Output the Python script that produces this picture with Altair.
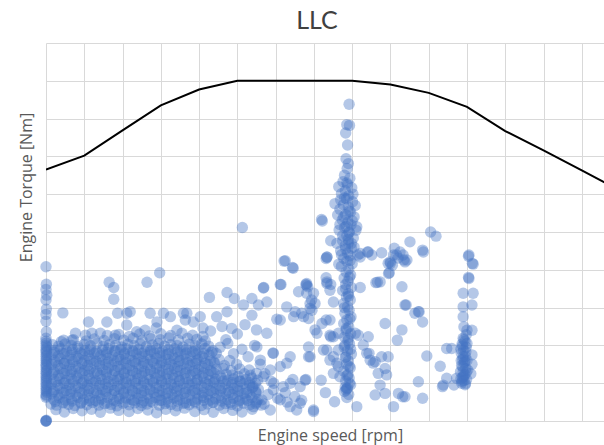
import altair as alt
import pandas as pd

# ---- max torque curve (rpm, Nm) ----
curve_rpm = [600, 700, 800, 900, 1000, 1100, 1200, 1300, 1400, 1500, 1600, 1700, 1800, 1900, 2000, 2100]
curve_nm = [665, 702, 769, 835, 877, 900, 900, 900, 900, 890, 868, 831, 767, 716, 663, 610]

x_ticks = [600, 700, 800, 900, 1000, 1100, 1200, 1300, 1400, 1500, 1600, 1700, 1800, 1900, 2000]
y_ticks = [0, 100, 200, 300, 400, 500, 600, 700, 800, 900, 1000]

# ---- idle column ----
idle = [(600, 0), (600, 0), (600, 0), (601, 2), (600, 408), (601, 362), (600, 348), (602, 333), (600, 320),
        (601, 296), (600, 282), (600, 264), (601, 236), (600, 219),
        (600, 211), (601, 206), (600, 200), (602, 196), (600, 190), (601, 185), (600, 181), (602, 175),
        (600, 171), (601, 165), (600, 160), (602, 156), (600, 150), (601, 146), (600, 141), (602, 135),
        (600, 131), (601, 126), (600, 120), (602, 115), (600, 111), (601, 106), (600, 100), (602, 95),
        (600, 91), (601, 85), (600, 80), (602, 76), (600, 70), (601, 66), (600, 63)]

# ---- dense cloud ----
core = [
    (626, 30), (648, 24), (671, 33), (694, 27), (719, 31), (742, 23), (768, 34), (790, 28), (817, 25), (840, 33),
    (866, 29), (889, 22), (913, 31), (938, 27), (962, 34), (989, 25), (1013, 30), (1037, 23), (1064, 33), (1088, 28),
    (1112, 24), (1139, 31),
    (613, 45), (628, 42), (644, 48), (659, 44), (675, 41), (691, 47), (707, 43), (722, 49), (738, 42), (753, 46),
    (770, 44), (785, 40), (801, 47), (817, 43), (832, 48), (849, 41), (864, 45), (880, 49), (896, 42), (911, 46),
    (927, 44), (943, 40), (959, 47), (974, 43), (990, 48), (1006, 41), (1022, 45), (1037, 49), (1053, 42), (1069, 46),
    (1085, 44), (1100, 40), (1116, 47), (1132, 43), (1148, 46), (1162, 42),
    (620, 57), (635, 61), (651, 55), (666, 59), (683, 62), (698, 56), (714, 60), (730, 54), (745, 58), (761, 62),
    (777, 55), (792, 59), (808, 61), (824, 56), (840, 60), (855, 54), (871, 58), (887, 62), (902, 55), (918, 59),
    (934, 61), (949, 56), (965, 60), (981, 54), (996, 58), (1012, 62), (1028, 55), (1043, 59), (1059, 61), (1075, 56),
    (1090, 60), (1106, 54), (1122, 58), (1138, 62), (1154, 57),
    (615, 72), (631, 68), (647, 74), (662, 70), (678, 67), (694, 73), (709, 69), (725, 75), (741, 68), (756, 72),
    (772, 70), (788, 66), (803, 73), (819, 69), (835, 74), (850, 67), (866, 71), (882, 75), (897, 68), (913, 72),
    (929, 70), (944, 66), (960, 73), (976, 69), (991, 74), (1007, 67), (1023, 71), (1038, 75), (1054, 68), (1070, 72),
    (1086, 70), (1101, 66), (1117, 73), (1133, 69), (1149, 74),
    (622, 83), (637, 87), (653, 81), (668, 85), (684, 88), (700, 82), (715, 86), (731, 80), (747, 84), (762, 88),
    (778, 81), (794, 85), (809, 87), (825, 82), (841, 86), (856, 80), (872, 84), (888, 88), (903, 81), (919, 85),
    (935, 87), (950, 82), (966, 86), (982, 80), (997, 84), (1013, 88), (1029, 81), (1044, 85), (1060, 87), (1076, 82),
    (1091, 86), (1107, 80), (1123, 84), (1139, 88), (1155, 83),
    (614, 98), (630, 94), (646, 100), (661, 96), (677, 93), (693, 99), (708, 95), (724, 101), (740, 94), (755, 98),
    (771, 96), (787, 92), (802, 99), (818, 95), (834, 100), (849, 93), (865, 97), (881, 101), (896, 94), (912, 98),
    (928, 96), (943, 92), (959, 99), (975, 95), (990, 100), (1006, 93), (1022, 97), (1037, 101), (1053, 94), (1069, 98),
    (1085, 96), (1100, 92), (1116, 99), (1132, 95), (1147, 100),
    (621, 109), (636, 113), (652, 107), (667, 111), (683, 114), (699, 108), (714, 112), (730, 106), (746, 110), (761, 114),
    (777, 107), (793, 111), (808, 113), (824, 108), (840, 112), (855, 106), (871, 110), (887, 114), (902, 107), (918, 111),
    (934, 113), (949, 108), (965, 112), (981, 106), (996, 110), (1012, 114), (1028, 107), (1043, 111), (1059, 113), (1075, 108),
    (1090, 112), (1106, 106), (1122, 110), (1138, 114), (1153, 108),
    (616, 124), (632, 120), (648, 126), (663, 122), (679, 119), (695, 125), (710, 121), (726, 127), (742, 120), (757, 124),
    (773, 122), (789, 118), (804, 125), (820, 121), (836, 126), (851, 119), (867, 123), (883, 127), (898, 120), (914, 124),
    (930, 122), (945, 118), (961, 125), (977, 121), (992, 126), (1008, 119), (1024, 123), (1039, 127), (1055, 120), (1071, 124),
    (1087, 122), (1102, 118), (1118, 125), (1134, 121), (1150, 126),
    (623, 135), (638, 139), (654, 133), (669, 137), (685, 140), (701, 134), (716, 138), (732, 132), (748, 136), (763, 140),
    (779, 133), (795, 137), (810, 139), (826, 134), (842, 138), (857, 132), (873, 136), (889, 140), (904, 133), (920, 137),
    (936, 139), (951, 134), (967, 138), (983, 132), (998, 136), (1014, 140), (1030, 133), (1045, 137), (1063, 139), (1084, 134),
    (1106, 138), (1131, 135),
    (615, 150), (631, 146), (647, 152), (662, 148), (678, 145), (694, 151), (709, 147), (725, 153), (741, 146), (756, 150),
    (772, 148), (788, 144), (803, 151), (819, 147), (835, 152), (850, 145), (866, 149), (882, 153), (897, 146), (913, 150),
    (929, 148), (944, 144), (960, 151), (976, 147), (991, 152), (1007, 145), (1023, 149), (1040, 153), (1066, 147), (1098, 150),
    (622, 161), (637, 165), (653, 159), (668, 163), (684, 166), (700, 160), (715, 164), (731, 158), (747, 162), (762, 166),
    (778, 159), (794, 163), (809, 165), (825, 160), (841, 164), (856, 158), (872, 162), (888, 166), (903, 159), (919, 163),
    (935, 165), (950, 160), (966, 164), (982, 158), (997, 162), (1013, 166), (1030, 159), (1052, 163), (1080, 160),
    (616, 176), (632, 172), (648, 178), (663, 174), (679, 171), (695, 177), (710, 173), (726, 179), (742, 172), (757, 176),
    (773, 174), (789, 170), (804, 177), (820, 173), (836, 178), (851, 171), (867, 175), (883, 179), (898, 172), (914, 176),
    (930, 174), (945, 170), (961, 177), (977, 173), (992, 178), (1008, 171), (1026, 175), (1045, 179),
    (623, 187), (638, 191), (654, 185), (669, 189), (685, 192), (701, 186), (716, 190), (732, 184), (748, 188), (763, 192),
    (779, 185), (795, 189), (810, 191), (826, 186), (842, 190), (857, 184), (873, 188), (889, 192), (904, 185), (920, 189),
    (936, 191), (951, 186), (967, 190), (983, 184), (998, 188), (1016, 192), (1036, 186),
    (617, 202), (633, 198), (650, 204), (666, 200), (683, 197), (700, 203), (716, 199), (733, 205), (750, 198), (766, 202),
    (782, 200), (798, 196), (814, 203), (830, 199), (846, 204), (862, 197), (878, 201), (894, 205), (910, 198), (926, 202),
    (942, 200), (958, 196), (974, 203), (990, 199), (1007, 204), (1025, 198),
    (640, 210), (672, 215), (705, 212), (726, 217), (752, 213), (779, 218), (803, 214), (828, 219), (851, 213), (874, 218),
    (899, 215), (921, 220), (946, 214), (970, 219), (994, 216), (1016, 212),
    (760, 226), (790, 229), (818, 224), (845, 230), (870, 225), (900, 231), (926, 226), (955, 232), (983, 227), (1010, 224),
    (1055, 195), (1075, 205), (1090, 178), (1112, 190), (1128, 170), (1145, 200), (1160, 150), (1070, 215),
    (1170, 45), (1180, 70), (1195, 100), (1205, 60), (1225, 75), (1245, 110), (1172, 125), (1188, 105), (1230, 50),
    (1250, 65), (1268, 55),
]

# ---- extra points where the cloud is densest ----
core2 = [
    (624, 52), (647, 50), (668, 53), (692, 49), (714, 54), (737, 51), (759, 48), (783, 53), (806, 50), (829, 54),
    (851, 49), (874, 52), (898, 55), (920, 50), (943, 53), (966, 48), (989, 52), (1012, 55), (1035, 50), (1058, 53),
    (1081, 49), (1104, 52), (1127, 54), (1150, 50),
    (619, 78), (642, 75), (665, 79), (688, 76), (711, 80), (734, 74), (757, 78), (780, 81), (803, 76), (826, 79),
    (849, 75), (872, 80), (895, 77), (918, 74), (941, 79), (964, 76), (987, 81), (1010, 75), (1033, 78), (1056, 80),
    (1079, 76), (1102, 79), (1125, 75), (1148, 78),
    (626, 104), (649, 101), (672, 106), (695, 102), (718, 105), (741, 100), (764, 104), (787, 107), (810, 102), (833, 105),
    (856, 101), (879, 106), (902, 103), (925, 100), (948, 105), (971, 102), (994, 107), (1017, 101), (1040, 104),
    (1063, 106), (1086, 102), (1109, 105), (1132, 101),
    (620, 130), (643, 127), (666, 131), (689, 128), (712, 132), (735, 126), (758, 130), (781, 133), (804, 128), (827, 131),
    (850, 127), (873, 132), (896, 129), (919, 126), (942, 131), (965, 128), (988, 133), (1011, 127), (1034, 130),
    (625, 156), (648, 153), (671, 157), (694, 154), (717, 158), (740, 152), (763, 156), (786, 159), (809, 154), (832, 157),
    (855, 153), (878, 158), (901, 155), (924, 152), (947, 157), (970, 154), (993, 159), (1016, 153), (1039, 156),
    (621, 182), (644, 179), (667, 183), (690, 180), (713, 184), (736, 178), (759, 182), (782, 185), (805, 180), (828, 183),
    (851, 179), (874, 184), (897, 181), (920, 178), (943, 183), (966, 180), (989, 185), (1012, 179), (1033, 182),
]

# ---- fringe and scattered points around the cloud ----
fringe = [
    (644, 286), (711, 262), (759, 262), (787, 285), (811, 285), (811, 254), (820, 289), (872, 285), (890, 262), (907, 285),
    (925, 276), (959, 285), (964, 267), (677, 232), (703, 227), (720, 232), (742, 232), (781, 227), (837, 236), (859, 240),
    (888, 246), (942, 240), (646, 214), (668, 214), (765, 367), (777, 353), (777, 322), (864, 367), (897, 392),
    (985, 262), (1003, 276), (968, 285), (1046, 276), (1073, 289), (1116, 307), (1138, 280), (1155, 307), (1177, 315),
    (1027, 327), (1073, 340), (1092, 324), (1138, 324),
    (1010, 246), (1030, 238), (1060, 250), (1085, 245), (1100, 230), (1120, 255), (1150, 241), (1177, 232), (1151, 196),
    (1193, 180), (1160, 161), (1186, 135), (1212, 144), (1229, 153), (1238, 170), (1168, 117), (1141, 91), (1194, 82),
    (1220, 91), (1238, 100), (1277, 108), (1279, 110), (1264, 91), (1164, 56), (1212, 56), (1238, 38), (1255, 29),
    (1299, 29), (1186, 29), (1142, 38), (1286, 170), (1286, 196), (1308, 232), (1325, 188), (1342, 161), (1351, 223),
    (1321, 258), (1295, 293),
]

diag = [
    (1225, 424), (1246, 404), (1334, 433), (1168, 352), (1212, 361), (1203, 269), (1229, 302), (1281, 359), (1286, 271),
    (1251, 289), (1334, 368), (1351, 315), (1194, 179), (1212, 267), (1247, 276), (1268, 285), (1290, 311), (1299, 338),
    (1260, 342), (1113, 512), (1244, 406), (1222, 423), (1214, 361), (1169, 353), (1279, 361), (1284, 355), (1332, 379),
    (1344, 361), (1320, 533), (1344, 477), (1332, 430), (1355, 575), (1412, 514), (1322, 529),
    (1281, 364), (1281, 338), (1294, 320), (1273, 276), (1290, 298), (1303, 311), (1303, 241), (1334, 364), (1342, 346),
    (1342, 267), (1342, 227), (1364, 232), (1334, 188), (1290, 170), (1351, 170), (1360, 153), (1351, 126), (1368, 117),
    (1386, 86), (1264, 47), (1299, 25), (1412, 38), (1354, 51), (1319, 108), (1330, 75),
]

# ---- vertical spike near 1390 rpm ----
spike = [
    (1392, 838), (1386, 784), (1393, 782), (1383, 762), (1388, 730), (1384, 694), (1390, 681), (1387, 668),
    (1380, 650), (1394, 642), (1376, 633), (1388, 625), (1399, 617), (1382, 609), (1372, 601), (1391, 596), (1385, 588),
    (1401, 580), (1377, 572), (1390, 566), (1368, 560), (1396, 553), (1383, 546), (1405, 540), (1374, 532), (1389, 526),
    (1397, 519), (1380, 512), (1366, 505), (1392, 498), (1386, 491), (1403, 484), (1375, 477), (1390, 471), (1382, 464),
    (1398, 457), (1370, 450), (1388, 444), (1394, 437), (1378, 430), (1386, 423), (1400, 416), (1372, 409), (1391, 402),
    (1384, 394), (1396, 386), (1379, 378), (1389, 370), (1383, 361), (1398, 353), (1375, 345), (1390, 337), (1385, 328),
    (1395, 320), (1378, 311), (1388, 302), (1392, 293), (1381, 285), (1397, 276), (1386, 267), (1378, 258), (1391, 249),
    (1384, 240), (1396, 231), (1380, 222), (1389, 213), (1393, 204), (1379, 195), (1387, 186), (1398, 177), (1382, 168),
    (1390, 159), (1385, 150), (1395, 141), (1378, 132), (1389, 123), (1392, 114), (1383, 105), (1396, 96), (1387, 87),
    (1380, 78), (1391, 70), (1386, 62),
    (1365, 620), (1402, 600), (1370, 585), (1408, 570), (1362, 545), (1400, 530), (1368, 520), (1410, 505), (1375, 490),
    (1360, 470), (1405, 460), (1383, 455), (1372, 440), (1395, 425), (1365, 415), (1390, 480), (1384, 515), (1392, 555),
    (1380, 590), (1386, 630), (1392, 500), (1378, 540), (1398, 470),
    (1393, 380), (1383, 350), (1391, 330), (1380, 300), (1394, 270), (1385, 245), (1390, 220), (1381, 200), (1396, 190),
    (1384, 170), (1392, 145), (1386, 120), (1393, 100), (1382, 90),
]

# ---- branch and scattered points right of the spike ----
branch = [
    (1421, 443), (1442, 447), (1451, 439), (1477, 445), (1508, 439), (1494, 417), (1516, 439), (1525, 447), (1499, 421),
    (1538, 421), (1497, 392), (1551, 474), (1584, 452), (1605, 500), (1619, 489), (1473, 368), (1530, 355), (1538, 307),
    (1575, 289), (1584, 262), (1486, 258), (1530, 241), (1520, 431), (1510, 457), (1533, 439), (1505, 412), (1415, 439),
    (1440, 447), (1535, 426), (1500, 417), (1495, 390), (1462, 366), (1421, 353), (1466, 367), (1334, 434), (1421, 434),
    (1586, 447), (1543, 426),
    (1647, 192), (1660, 192), (1630, 145), (1647, 113), (1638, 95), (1673, 113), (1595, 172), (1573, 104), (1584, 60),
    (1508, 38), (1521, 73), (1538, 64), (1486, 73), (1518, 214), (1541, 307), (1573, 289), (1455, 153), (1447, 161),
    (1477, 170), (1468, 126), (1486, 139), (1490, 122), (1494, 170), (1438, 179), (1429, 201), (1408, 232), (1416, 227),
    (1442, 223), (1473, 95), (1460, 69), (1564, 285), (1532, 64), (1666, 95), (1636, 91), (1460, 157), (1444, 179),
    (1364, 144), (1384, 82), (1364, 188), (1344, 223), (1332, 267),
]

# ---- vertical column near 1695 rpm ----
col2 = [
    (1705, 439), (1716, 415), (1705, 377), (1690, 338), (1716, 338), (1690, 302), (1713, 307), (1690, 276), (1692, 249),
    (1713, 240), (1690, 219), (1695, 211), (1687, 203), (1698, 195), (1691, 187), (1685, 179), (1696, 171), (1689, 163),
    (1693, 155), (1686, 147), (1697, 139), (1690, 131), (1694, 123), (1688, 115), (1692, 107), (1686, 100), (1695, 96),
    (1713, 175), (1713, 150), (1710, 125), (1700, 240), (1704, 436), (1714, 417), (1704, 380), (1698, 228), (1684, 190),
    (1700, 160), (1683, 130), (1699, 110),
    (1692, 215), (1688, 198), (1697, 183), (1690, 170), (1695, 158), (1689, 143), (1698, 128), (1691, 118), (1687, 105),
    (1696, 99), (1700, 205), (1685, 160), (1702, 135), (1684, 112),
]

points = idle + core + core2 + fringe + diag + spike + branch + col2
pts = pd.DataFrame(points, columns=["rpm", "torque"])
curve = pd.DataFrame({"rpm": curve_rpm, "torque": curve_nm})

xscale = alt.Scale(domain=[600, 2058], nice=False, zero=False)
yscale = alt.Scale(domain=[0, 1000], nice=False)

xaxis = alt.Axis(values=x_ticks, labels=False, ticks=False, domain=False, grid=True,
                 gridColor="#d9d9d9", title="Engine speed [rpm]", titleFont="Open Sans",
                 titleFontSize=16, titleFontWeight="normal", titleColor="#595959",
                 titleX=284, titleY=19, titleBaseline="alphabetic", titleAlign="center")
yaxis = alt.Axis(values=y_ticks, labels=False, ticks=False, domain=False, grid=True,
                 gridColor="#d9d9d9", title="Engine Torque [Nm]", titleFont="Open Sans",
                 titleFontSize=16, titleFontWeight="normal", titleColor="#595959",
                 titleX=-20, titleY=144, titleBaseline="middle", titleAlign="center", titleAngle=270)

scatter = alt.Chart(pts).mark_circle(size=130, color="#4472C4", opacity=0.4).encode(
    x=alt.X("rpm:Q", scale=xscale, axis=xaxis),
    y=alt.Y("torque:Q", scale=yscale, axis=yaxis),
)

line = alt.Chart(curve).mark_line(color="black", strokeWidth=2, clip=True).encode(
    x=alt.X("rpm:Q", scale=xscale, axis=xaxis),
    y=alt.Y("torque:Q", scale=yscale, axis=yaxis),
)

chart = alt.layer(scatter, line).properties(
    width=558, height=378,
    autosize=alt.AutoSizeParams(type="none"),
    padding={"left": 46, "top": 43, "right": 0, "bottom": 24},
    title=alt.TitleParams("LLC", font="Lato", fontSize=25, fontWeight="normal", color="#404040",
                          anchor="middle", frame="group", dx=-8, offset=9),
).configure_view(stroke=None)

chart.save("out.html", embed_options={"renderer": "svg", "actions": False})
